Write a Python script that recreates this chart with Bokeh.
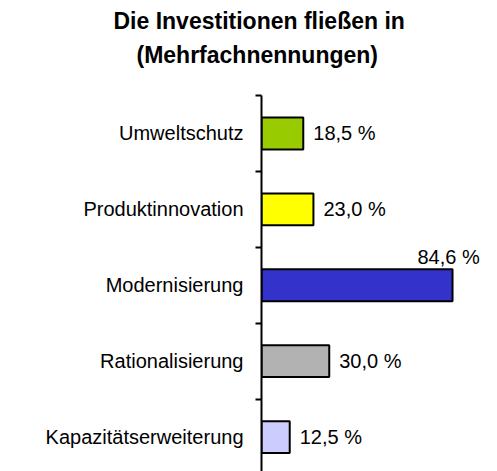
from bokeh.plotting import figure
from bokeh.models import Range1d, FixedTicker, Title, ColumnDataSource
from bokeh.core.properties import value
from bokeh.embed import file_html
from bokeh.resources import INLINE

# ---- data ----
title_lines = ["Die Investitionen fließen in", "(Mehrfachnennungen)"]
categories = ["Umweltschutz", "Produktinnovation", "Modernisierung",
              "Rationalisierung", "Kapazitätserweiterung"]
values = [18.5, 23.0, 84.6, 30.0, 12.5]
colors = ["#99CC00", "#FFFF00", "#3333CC", "#B2B2B2", "#CCCCFF"]
value_labels = [f"{v:.1f} %".replace(".", ",") for v in values]

FONT = "Liberation Sans"
n = len(categories)
pos = list(range(n))

p = figure(width=489, height=471, output_backend="svg", toolbar_location=None,
           x_axis_type=None, min_border_left=261, min_border_top=0,
           min_border_bottom=0, min_border_right=0)
p.x_range = Range1d(0, 228 / 2.258)
p.y_range = Range1d(-0.5 + 374 / 75.5, -0.5)
p.outline_line_color = None
p.grid.visible = False
p.background_fill_color = "white"
p.border_fill_color = "white"

src = ColumnDataSource(dict(y=pos, right=values, color=colors))
p.hbar(y="y", left=0, right="right", height=0.42, fill_color="color",
       line_color="black", line_width=2, source=src)

ax = p.yaxis[0]
ax.ticker = FixedTicker(ticks=pos, minor_ticks=[i - 0.5 for i in range(n)])
ax.major_label_overrides = {i: c for i, c in zip(pos, categories)}
ax.major_tick_out = 0
ax.major_tick_in = 0
ax.minor_tick_out = 6
ax.minor_tick_in = 0
ax.minor_tick_line_width = 2
ax.minor_tick_line_color = "black"
ax.axis_line_width = 2
ax.axis_line_color = "black"
ax.major_label_standoff = 12
ax.major_label_text_font = FONT
ax.major_label_text_font_size = "20px"
ax.major_label_text_color = "black"

# value labels
inside_x, inside_y, inside_t = [], [], []
above_x, above_y, above_t = [], [], []
for i, (v, t) in enumerate(zip(values, value_labels)):
    if v > 80:
        above_x.append(v); above_y.append(i - 0.376); above_t.append(t)
    else:
        inside_x.append(v); inside_y.append(i); inside_t.append(t)

p.text(x=inside_x, y=inside_y, text=inside_t, x_offset=10,
       text_font=value(FONT), text_font_size="20px", text_color="black",
       text_align="left", text_baseline="middle")
p.text(x=above_x, y=above_y, text=above_t, x_offset=-4,
       text_font=value(FONT), text_font_size="20px", text_color="black",
       text_align="center", text_baseline="alphabetic")

# title: stacked panels above the frame (top -> bottom):
# spacer0 (p.title), line1, spacer1, line2, spacer2, frame
def spacer(size):
    return Title(text=".", text_color="white", text_font=FONT,
                 text_font_size=f"{size}px", standoff=0)

def line(text, offset):
    return Title(text=text, align="left", offset=offset, text_font=FONT,
                 text_font_size="23px", text_font_style="bold",
                 text_color="black", standoff=0)

p.title.text = "."
p.title.text_color = "white"
p.title.text_font_size = "3px"
p.title.standoff = 0
# p.above is stacked with its first entry nearest to the frame
p.add_layout(spacer(37), "above")
p.add_layout(line(title_lines[1], -125), "above")
p.add_layout(spacer(5), "above")
p.add_layout(line(title_lines[0], -148), "above")

open("out.html", "w").write(file_html(p, INLINE))
